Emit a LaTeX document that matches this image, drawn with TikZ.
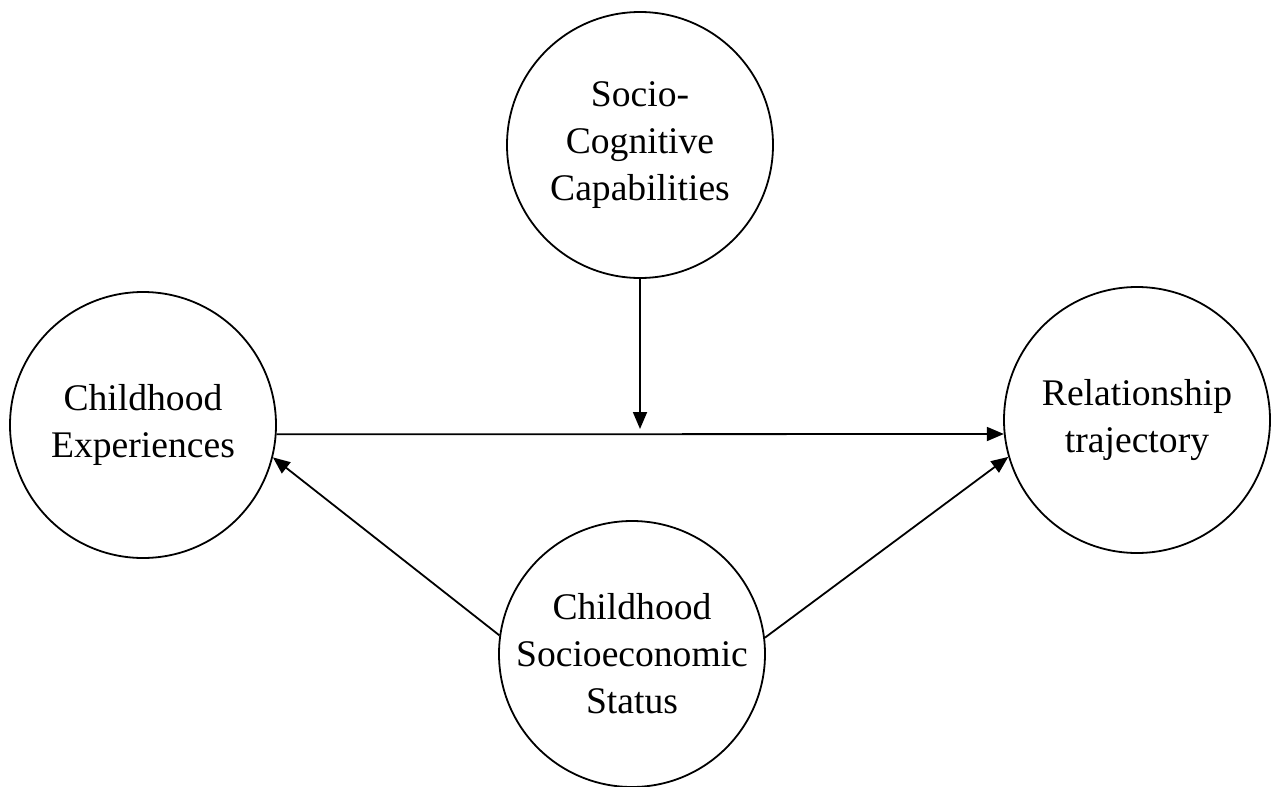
\documentclass[tikz,border=0pt]{standalone}
\usepackage{fontspec}
\setmainfont{Liberation Serif}
\usetikzlibrary{arrows.meta}
\begin{document}
\begin{tikzpicture}[x=1pt,y=-1pt,
  var/.style={draw, circle, line width=1.8pt, minimum size=266pt, inner sep=0pt,
    align=center, font=\fontsize{37.6}{47}\selectfont},
  conn/.style={line width=1.8pt, -{Triangle[length=17pt,width=14pt]}}]
\useasboundingbox (0,0) rectangle (1272,787);
\node[var] (soc) at (640,145) {Socio-\\Cognitive\\Capabilities};
\node[var] (exp) at (143,425) {Childhood\\Experiences};
\node[var] (rel) at (1137,420) {Relationship\\trajectory};
\node[var] (ses) at (632,654) {Childhood\\Socioeconomic\\Status};
\coordinate (mod) at (640,429);
\draw[conn] (exp.-4.7) -- (rel.186.9);
\draw[conn] (soc.south) -- (mod);
\draw[conn] (ses.172.8) -- (exp.-14.5);
\draw[conn] (ses.7.2) -- (rel.196.2);
\end{tikzpicture}
\end{document}
